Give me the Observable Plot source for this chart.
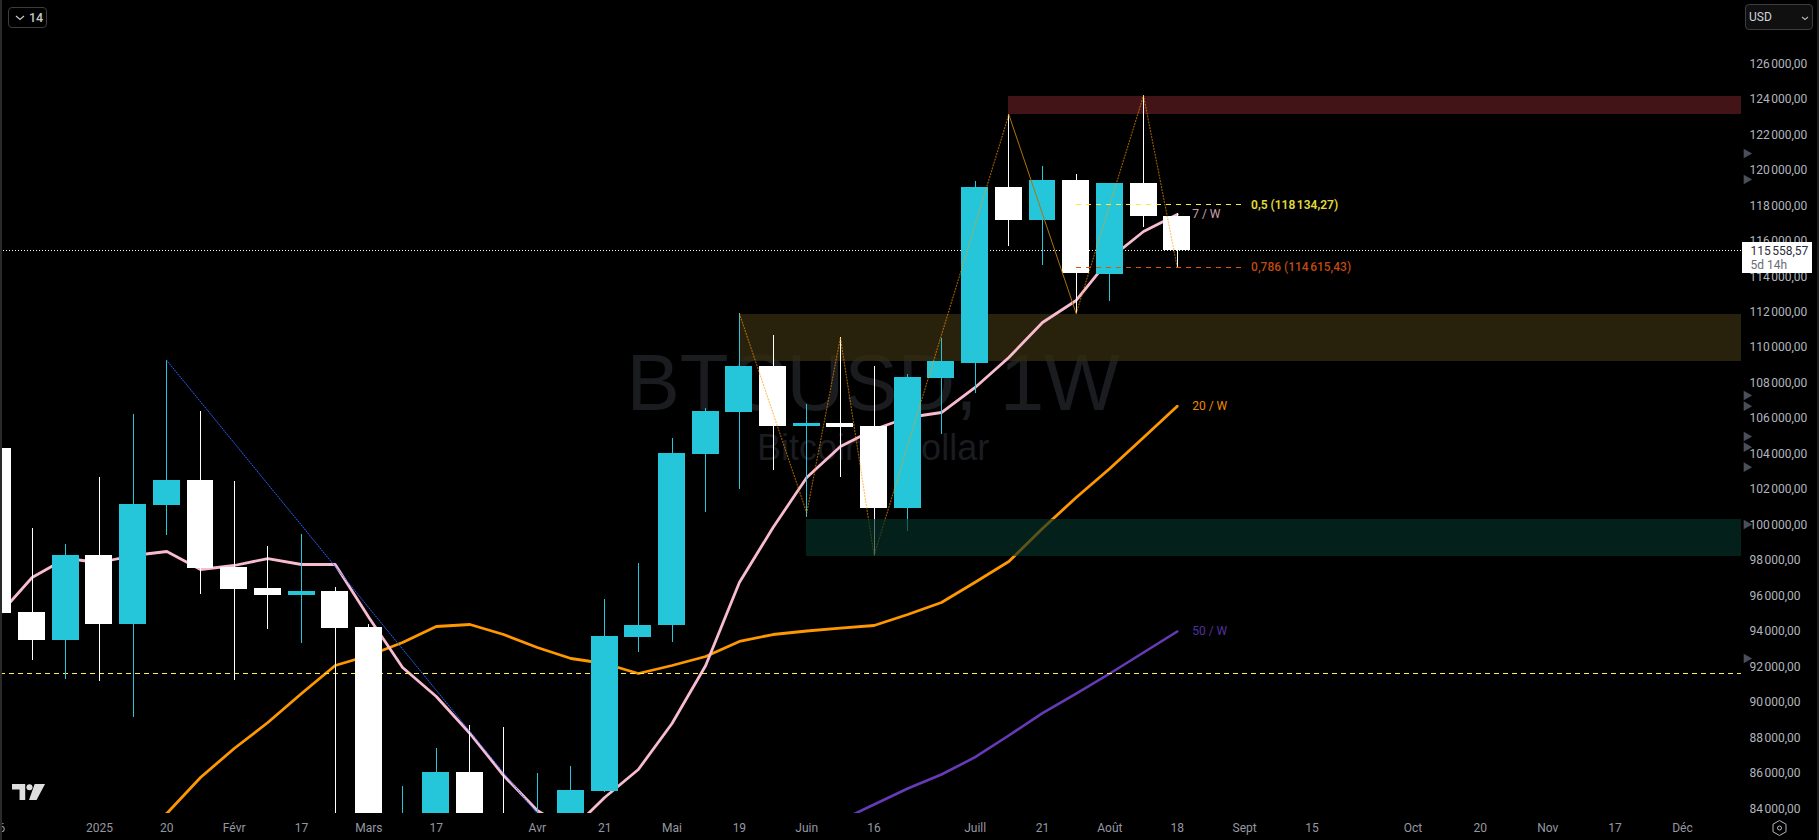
<!DOCTYPE html>
<html lang="fr">
<head>
<meta charset="utf-8">
<title>BTCUSD, 1W</title>
<script src="https://cdn.jsdelivr.net/npm/d3@7"></script>
<script src="https://cdn.jsdelivr.net/npm/@observablehq/plot@0.6"></script>
<style>
html,body{margin:0;padding:0;background:#000;overflow:hidden}
#wrap{position:relative;width:1819px;height:840px;font-family:Roboto,sans-serif}
#wrap svg{display:block}
.ov{position:absolute;box-sizing:border-box}
</style>
</head>
<body>
<div id="wrap">
  <div id="chart"></div>
  <div class="ov" style="left:0;top:0;width:2px;height:840px;background:#2a2a2a"></div>
  <div class="ov" style="left:1817px;top:0;width:2px;height:840px;background:#1e1e1e"></div>
  <div class="ov" style="left:8px;top:7px;width:39px;height:21px;border:1px solid #3d3d3d;border-radius:4px;color:#c8c8c8;font-size:12.5px;font-weight:500;line-height:19px">
    <svg width="10" height="6" style="position:absolute;left:6px;top:7px"><path d="M1 1l4 3.5L9 1" fill="none" stroke="#c8c8c8" stroke-width="1.2"/></svg>
    <span style="position:absolute;left:20px;top:0">14</span>
  </div>
  <div class="ov" style="left:1745px;top:4px;width:68px;height:26px;background:#101010;border:1px solid #3d3d3d;border-radius:4px;color:#d1d4dc;font-size:12px;line-height:24px;padding-left:3px">USD
    <svg width="8" height="5" style="position:absolute;left:55px;top:11px"><path d="M1 1l3 2.5L7 1" fill="none" stroke="#b2b5be" stroke-width="1.1"/></svg>
  </div>
  <div class="ov" style="left:1742px;top:242px;width:70px;height:31px;background:#fff;padding-left:8.5px;font-size:12px;line-height:14.5px;padding-top:1.5px;color:#2a2e39">115&#8239;558,57<br><span style="color:#6a6d78">5d 14h</span></div>
  <svg class="ov" style="left:12px;top:782px" width="34" height="19" viewBox="0 0 36 20"><path d="M0 2h14v17H8V8H0z M24 2h11l-9 17h-8z" fill="#dedede"/><circle cx="18.5" cy="5.5" r="3.2" fill="#dedede"/></svg>
  <svg class="ov" style="left:1771px;top:819px" width="17" height="18" viewBox="0 0 17 18"><path d="M8.5 1.5l6.5 3.7v7.6l-6.5 3.7L2 12.8V5.2z" fill="none" stroke="#b2b5be" stroke-width="1"/><circle cx="8.5" cy="9" r="2" fill="none" stroke="#b2b5be" stroke-width="1"/></svg>
</div>
<script>
// Weekly candles; bar number 0 is the week of 23 Dec 2024
const bars   = [-1,0,1,2,3,4,5,6,7,8,9,10,11,12,13,14,15,16,17,18,19,20,21,22,23,24,25,26,27,28,29,30,31,32,33,34];
const opens  = [104399,95154,93576,98367,94478,101186,102595,97690,96507,96113,96338,94309,80700,82600,86135,82400,78300,83500,85064,93745,94422,104061,106428,109021,105639,105808,105639,101017,108345,109190,119112,117251,119506,114207,119337,117477];
const closes = [95115,93576,98367,94478,101242,102595,97634,96451,96113,96338,94252,80700,82600,86135,82400,78300,83500,85120,93801,94422,104117,106485,109021,105639,105808,105583,101017,108401,109303,119112,117251,119506,114264,119337,117477,115558.57];
const highs  = [104399,99889,98987,102764,106315,109360,106485,102539,98874,99551,96564,94478,85346,87488,88784,88672,86079,86473,95887,97916,104963,106654,112009,110769,106879,110656,109021,108570,110600,119450,123227,120295,119844,119337,124298,117646];
const lows   = [95115,92448,91378,91265,89235,99495,96169,91321,94196,93407,78000,76600,76600,81000,81600,77000,74400,83100,85000,92916,93480,100808,102088,103159,100509,102764,98367,99720,105188,107499,115786,114715,112009,112685,116857,114602];

// Moving averages
const ma7Bars  = bars;
const ma7      = [94985,97127,98198,97973,98367,98593,97578,97804,98198,97860,97860,94872,92054,90419,88334,85966,83993,82866,84726,86304,88897,92167,96845,99946,102764,104512,105470,106147,106428,107838,109529,111502,112742,115109,116631,117590];
const ma20Bars = [3,4,5,6,7,8,9,10,11,12,13,14,15,16,17,18,19,20,21,22,23,24,25,26,27,28,29,30,31,32,33,34];
const ma20     = [82866,83824,85853,87488,88953,90588,92167,92730,93463,94365,94478,93914,93181,92561,92279,91716,92167,92674,93520,93914,94112,94269,94422,95042,95718,96862,98029,99889,101637,103272,105019,106783];
const ma50Bars = [24,25,26,27,28,29,30,31,32,33,34];
const ma50     = [83429,84331,85233,86022,86998,88221,89478,90588,91716,92900,94083];

// Drawings
const trendBars   = [4,15];
const trendPrices = [109360,83800];
const zigABars    = [21,23,24,25,29];
const zigAPrices  = [112009,100770,110656,98367,123227];
const zigBBars    = [29,31];
const zigBPrices  = [123227,112009];
const zigCBars    = [31,33,34];
const zigCPrices  = [112009,124298,114615];
const zoneNames   = ["red","yellow","green"];
const zoneStart   = [29,21,23];
const zoneTop     = [124241,111952,100397];
const zoneBottom  = [123227,109303,98311];
const fibLevels   = [118134.27,114615.43];
const fibLabels   = ["0,5 (118\u202f134,27)","0,786 (114\u202f615,43)"];
const lastPrice   = 115558.57;
const keyLevel    = 91699;
const alertPrices = [121028,119563,107387,106783,105076,104472,103345,100115,92561];

// Axes
const priceTicks = d3.range(84000,126001,2000);
const timeBars   = [-1,2,4,6,8,10,12,15,17,19,21,23,25,28,30,32,34,36,38,41,43,45,47,49];
const timeLabels = ["16","2025","20","Févr","17","Mars","17","Avr","21","Mai","19","Juin","16","Juill","21","Août","18","Sept","15","Oct","20","Nov","17","Déc"];

const table = (xs,ys) => xs.map((x,k)=>({x,y:ys[k]}));
const candles = bars.map((b,k)=>({b,o:opens[k],c:closes[k],h:highs[k],l:lows[k],up:closes[k]>opens[k]}));
const BULL = "#26c6da", BEAR = "#ffffff";
const colour = d => d.up ? BULL : BEAR;
const fmt = d3.formatLocale({decimal:",",thousands:"\u202f",grouping:[3],currency:["",""]}).format(",.2f");
const zones = zoneNames.map((n,k)=>({n,s:zoneStart[k],t:zoneTop[k],b:zoneBottom[k]}));
const zone = n => zones.filter(z=>z.n===n);
const RIGHT = 50.754;
const labelFont = {fontSize:12,textAnchor:"start",lineAnchor:"middle"};
const crisp = {shapeRendering:"crispEdges"};

const chart = Plot.plot({
  width:1819, height:840,
  marginTop:0, marginBottom:27, marginLeft:0, marginRight:78,
  style:{background:"#000",fontFamily:"Roboto,sans-serif",fontSize:"12px"},
  x:{domain:[-0.938,RIGHT],axis:null},
  y:{domain:[83824,129653],axis:null},
  marks:[
    // watermark
    Plot.text(["BTCUSD, 1W"],{x:()=>25,y:()=>108040,text:d=>d,dx:-1,fontSize:80,fill:"#1a1c20",fontFamily:"Liberation Sans",lineAnchor:"middle"}),
    Plot.text(["Bitcoin / Dollar"],{x:()=>25,y:()=>104427,text:d=>d,dx:-1,fontSize:36,fill:"#1a1c20",fontFamily:"Liberation Sans",lineAnchor:"middle"}),
    // zones under the candles
    Plot.rect(zone("yellow"),{x1:"s",x2:()=>RIGHT,y1:"b",y2:"t",fill:"#362c0f",fillOpacity:0.75,clip:true,...crisp}),
    Plot.rect(zone("red"),{x1:"s",x2:()=>RIGHT,y1:"b",y2:"t",fill:"#431417",clip:true,...crisp}),
    // moving averages run behind the candles
    Plot.line(table(ma20Bars,ma20),{x:"x",y:"y",stroke:"#ff9800",strokeWidth:2.8,clip:true,curve:"linear"}),
    Plot.line(table(ma7Bars,ma7),{x:"x",y:"y",stroke:"#f8bbd0",strokeWidth:2.8,clip:true,curve:"linear"}),
    Plot.line(table(ma50Bars,ma50),{x:"x",y:"y",stroke:"#673ab7",strokeWidth:2.6,clip:true,curve:"linear"}),
    // horizontal levels
    Plot.ruleY([lastPrice],{stroke:"#ffffff",strokeDasharray:"1 2",strokeWidth:1,...crisp}),
    Plot.ruleY([keyLevel],{stroke:"#ffee58",strokeDasharray:"5 4",strokeWidth:1,...crisp}),
    // candles
    Plot.ruleX(candles,{x:"b",y1:"l",y2:"h",stroke:colour,strokeWidth:1,clip:true,...crisp}),
    Plot.rect(candles,{x1:d=>d.b-0.4,x2:d=>d.b+0.4,y1:"o",y2:"c",fill:colour,clip:true,...crisp}),
    // drawings
    Plot.line(table(trendBars,trendPrices),{x:"x",y:"y",stroke:"#2962ff",strokeWidth:1,strokeDasharray:"1 1.5",clip:true}),
    Plot.line(table(zigABars,zigAPrices),{x:"x",y:"y",stroke:"#ff9800",strokeOpacity:0.6,strokeWidth:1.2,strokeDasharray:"1 2"}),
    Plot.line(table(zigBBars,zigBPrices),{x:"x",y:"y",stroke:"#b0720f",strokeWidth:1}),
    Plot.line(table(zigCBars,zigCPrices),{x:"x",y:"y",stroke:"#ff9800",strokeOpacity:0.6,strokeWidth:1.2,strokeDasharray:"1 2"}),
    // fib levels
    Plot.ruleY([fibLevels[0]],{x1:()=>31,x2:()=>36,stroke:"#ffeb3b",strokeDasharray:"5 5",strokeWidth:1,...crisp}),
    Plot.ruleY([fibLevels[1]],{x1:()=>31,x2:()=>36,stroke:"#e65100",strokeDasharray:"5 5",strokeWidth:1,...crisp}),
    Plot.text([0],{x:()=>36,y:()=>fibLevels[0],text:()=>fibLabels[0],dx:6.5,fill:"#e0da3a",fontWeight:600,...labelFont}),
    Plot.text([0],{x:()=>36,y:()=>fibLevels[1],text:()=>fibLabels[1],dx:6.5,fill:"#bf4a10",fontWeight:500,...labelFont}),
    // ma labels
    Plot.text([0],{x:()=>34,y:()=>ma7[ma7.length-1],text:()=>"7 / W",dx:15,fill:"#c9a0ae",...labelFont}),
    Plot.text([0],{x:()=>34,y:()=>ma20[ma20.length-1],text:()=>"20 / W",dx:15,fill:"#ee8a00",...labelFont}),
    Plot.text([0],{x:()=>34,y:()=>ma50[ma50.length-1],text:()=>"50 / W",dx:15,fill:"#5231a0",...labelFont}),
    // green zone sits over everything
    Plot.rect(zone("green"),{x1:"s",x2:()=>RIGHT,y1:"b",y2:"t",fill:"#053027",fillOpacity:0.66,clip:true,...crisp}),
    // axes
    Plot.axisY({anchor:"right",ticks:priceTicks,tickSize:0,tickPadding:8,tickFormat:fmt,fill:"#b2b5be",label:null,fontSize:12,dy:-1.5}),
    Plot.axisX({anchor:"bottom",ticks:timeBars,tickSize:0,tickPadding:10,tickFormat:i=>timeLabels[timeBars.indexOf(i)],fill:"#9598a1",label:null,fontSize:12}),
    Plot.dot(alertPrices,{y:d=>d,frameAnchor:"right",dx:5,r:3.6,symbol:"triangle",rotate:90,fill:"#4a4e5a"})
  ]
});
document.getElementById("chart").appendChild(chart);
</script>
</body>
</html>
